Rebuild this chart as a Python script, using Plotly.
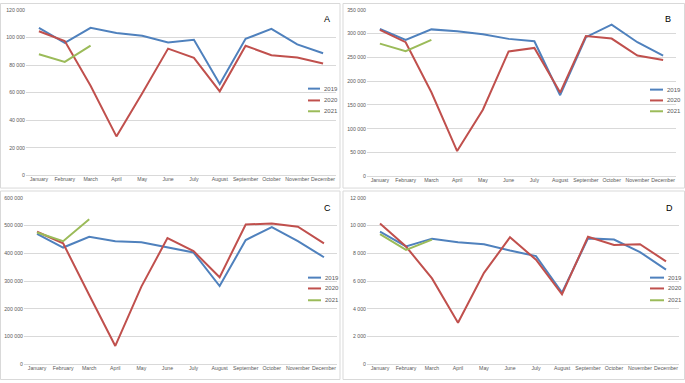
import plotly.graph_objects as go

months = ["January", "February", "March", "April", "May", "June", "July",
          "August", "September", "October", "November", "December"]
years = ["2019", "2020", "2021"]

# Panel A
a_2019 = [107000, 96000, 107000, 103300, 101200, 96400, 98300, 66300, 99000, 106200, 95000, 88500]
a_2020 = [104500, 97400, 65000, 28200, 59500, 91900, 85200, 60900, 94000, 87100, 85400, 81100]
a_2021 = [87800, 82300, 94000]
# Panel B
b_2019 = [309800, 287000, 309000, 305000, 298700, 289000, 284000, 170500, 292500, 318800, 282000, 254000]
b_2020 = [308000, 282000, 176700, 53000, 140000, 262600, 270000, 176000, 295000, 289700, 254000, 244600]
b_2021 = [279000, 263000, 287000]
# Panel C
c_2019 = [470000, 421000, 460000, 443600, 440000, 421000, 403000, 282000, 448000, 495000, 444000, 386000]
c_2020 = [478000, 436000, 250000, 66000, 280000, 455000, 408000, 314000, 504000, 508000, 496000, 436000]
c_2021 = [475000, 444000, 523000]
# Panel D
d_2019 = [9560, 8500, 9060, 8800, 8660, 8200, 7800, 5170, 9080, 9000, 8090, 6830]
d_2020 = [10150, 8490, 6190, 2990, 6590, 9160, 7540, 5050, 9200, 8610, 8660, 7420]
d_2021 = [9390, 8250, 8990]

panel_letters = ["A", "B", "C", "D"]
y_max = [120000, 350000, 600000, 12000]
y_step = [20000, 50000, 100000, 2000]

colors = ["#4F81BD", "#C0504D", "#9BBB59"]
W, H = 685, 383

def px_x(p):
    return p / W

def px_y(p):
    return 1 - p / H

# plot areas in pixels: (x0, x1, ytop, ybottom)
areas = [(26, 336, 7, 175), (367, 676, 7, 176), (24, 337, 198, 367), (367, 679, 198, 367)]
borders = [(0.5, 340, 0.5, 188), (343, 684.5, 0.5, 188), (0.5, 340, 191, 382.5), (343, 684.5, 191, 382.5)]
legend_pos = [(308, 320, [87, 99, 110]), (650, 663, [88, 99, 110]),
              (308, 321, [279, 290, 302]), (650, 664, [279, 290, 302])]
letter_pos = [(327, 16), (668, 16), (327, 208), (669, 208)]

data = [(a_2019, a_2020, a_2021), (b_2019, b_2020, b_2021),
        (c_2019, c_2020, c_2021), (d_2019, d_2020, d_2021)]

fig = go.Figure()
layout = dict(width=W, height=H, margin=dict(l=0, r=0, t=0, b=0),
              paper_bgcolor="white", plot_bgcolor="white", showlegend=False,
              separators=". ", font=dict(family="Liberation Sans, Arial", color="#595959"))
shapes = []
annotations = []
tickfont = dict(size=5.2, color="#595959", family="Liberation Sans, Arial")

for i, series in enumerate(data):
    sfx = "" if i == 0 else str(i + 1)
    for j, vals in enumerate(series):
        fig.add_trace(go.Scatter(
            x=months[:len(vals)], y=vals, mode="lines", name=years[j],
            line=dict(color=colors[j], width=2),
            xaxis="x" + sfx, yaxis="y" + sfx, showlegend=False))
    x0, x1, yt, yb = areas[i]
    layout["xaxis" + sfx] = dict(
        domain=[px_x(x0), px_x(x1)], anchor="y" + sfx, type="category",
        categoryorder="array", categoryarray=months, range=[-0.5, 11.5],
        showgrid=False, zeroline=False, showline=False, ticks="",
        tickfont=tickfont, tickangle=0, fixedrange=True)
    layout["yaxis" + sfx] = dict(
        domain=[px_y(yb), px_y(yt)], anchor="x" + sfx, range=[0, y_max[i]],
        dtick=y_step[i], tick0=0, tickformat=",d", showgrid=True,
        gridcolor="#D9D9D9", gridwidth=1, zeroline=True, zerolinecolor="#D9D9D9",
        zerolinewidth=1, showline=False, ticks="", tickfont=tickfont, fixedrange=True)
    bx0, bx1, by0, by1 = borders[i]
    shapes.append(dict(type="rect", xref="paper", yref="paper",
                       x0=px_x(bx0), x1=px_x(bx1), y0=px_y(by1), y1=px_y(by0),
                       line=dict(color="#D9D9D9", width=1), layer="below"))
    lx0, lx1, lys = legend_pos[i]
    for j, ly in enumerate(lys):
        shapes.append(dict(type="line", xref="paper", yref="paper",
                           x0=px_x(lx0), x1=px_x(lx1), y0=px_y(ly), y1=px_y(ly),
                           line=dict(color=colors[j], width=2)))
        annotations.append(dict(text=years[j], xref="paper", yref="paper",
                                x=px_x(lx1 + 1.5), y=px_y(ly), xanchor="left", yanchor="middle",
                                showarrow=False, font=dict(size=6, color="#595959",
                                                           family="Liberation Sans, Arial")))
    lxp, lyp = letter_pos[i]
    annotations.append(dict(text=panel_letters[i], xref="paper", yref="paper",
                            x=px_x(lxp), y=px_y(lyp), xanchor="center", yanchor="middle",
                            showarrow=False, font=dict(size=9, color="#000000",
                                                       family="Liberation Sans, Arial")))

layout["shapes"] = shapes
layout["annotations"] = annotations
fig.update_layout(**layout)
fig.write_html("out.html", config={"displayModeBar": False},
               post_script="document.body.style.margin='0';document.body.style.overflow='hidden';")
